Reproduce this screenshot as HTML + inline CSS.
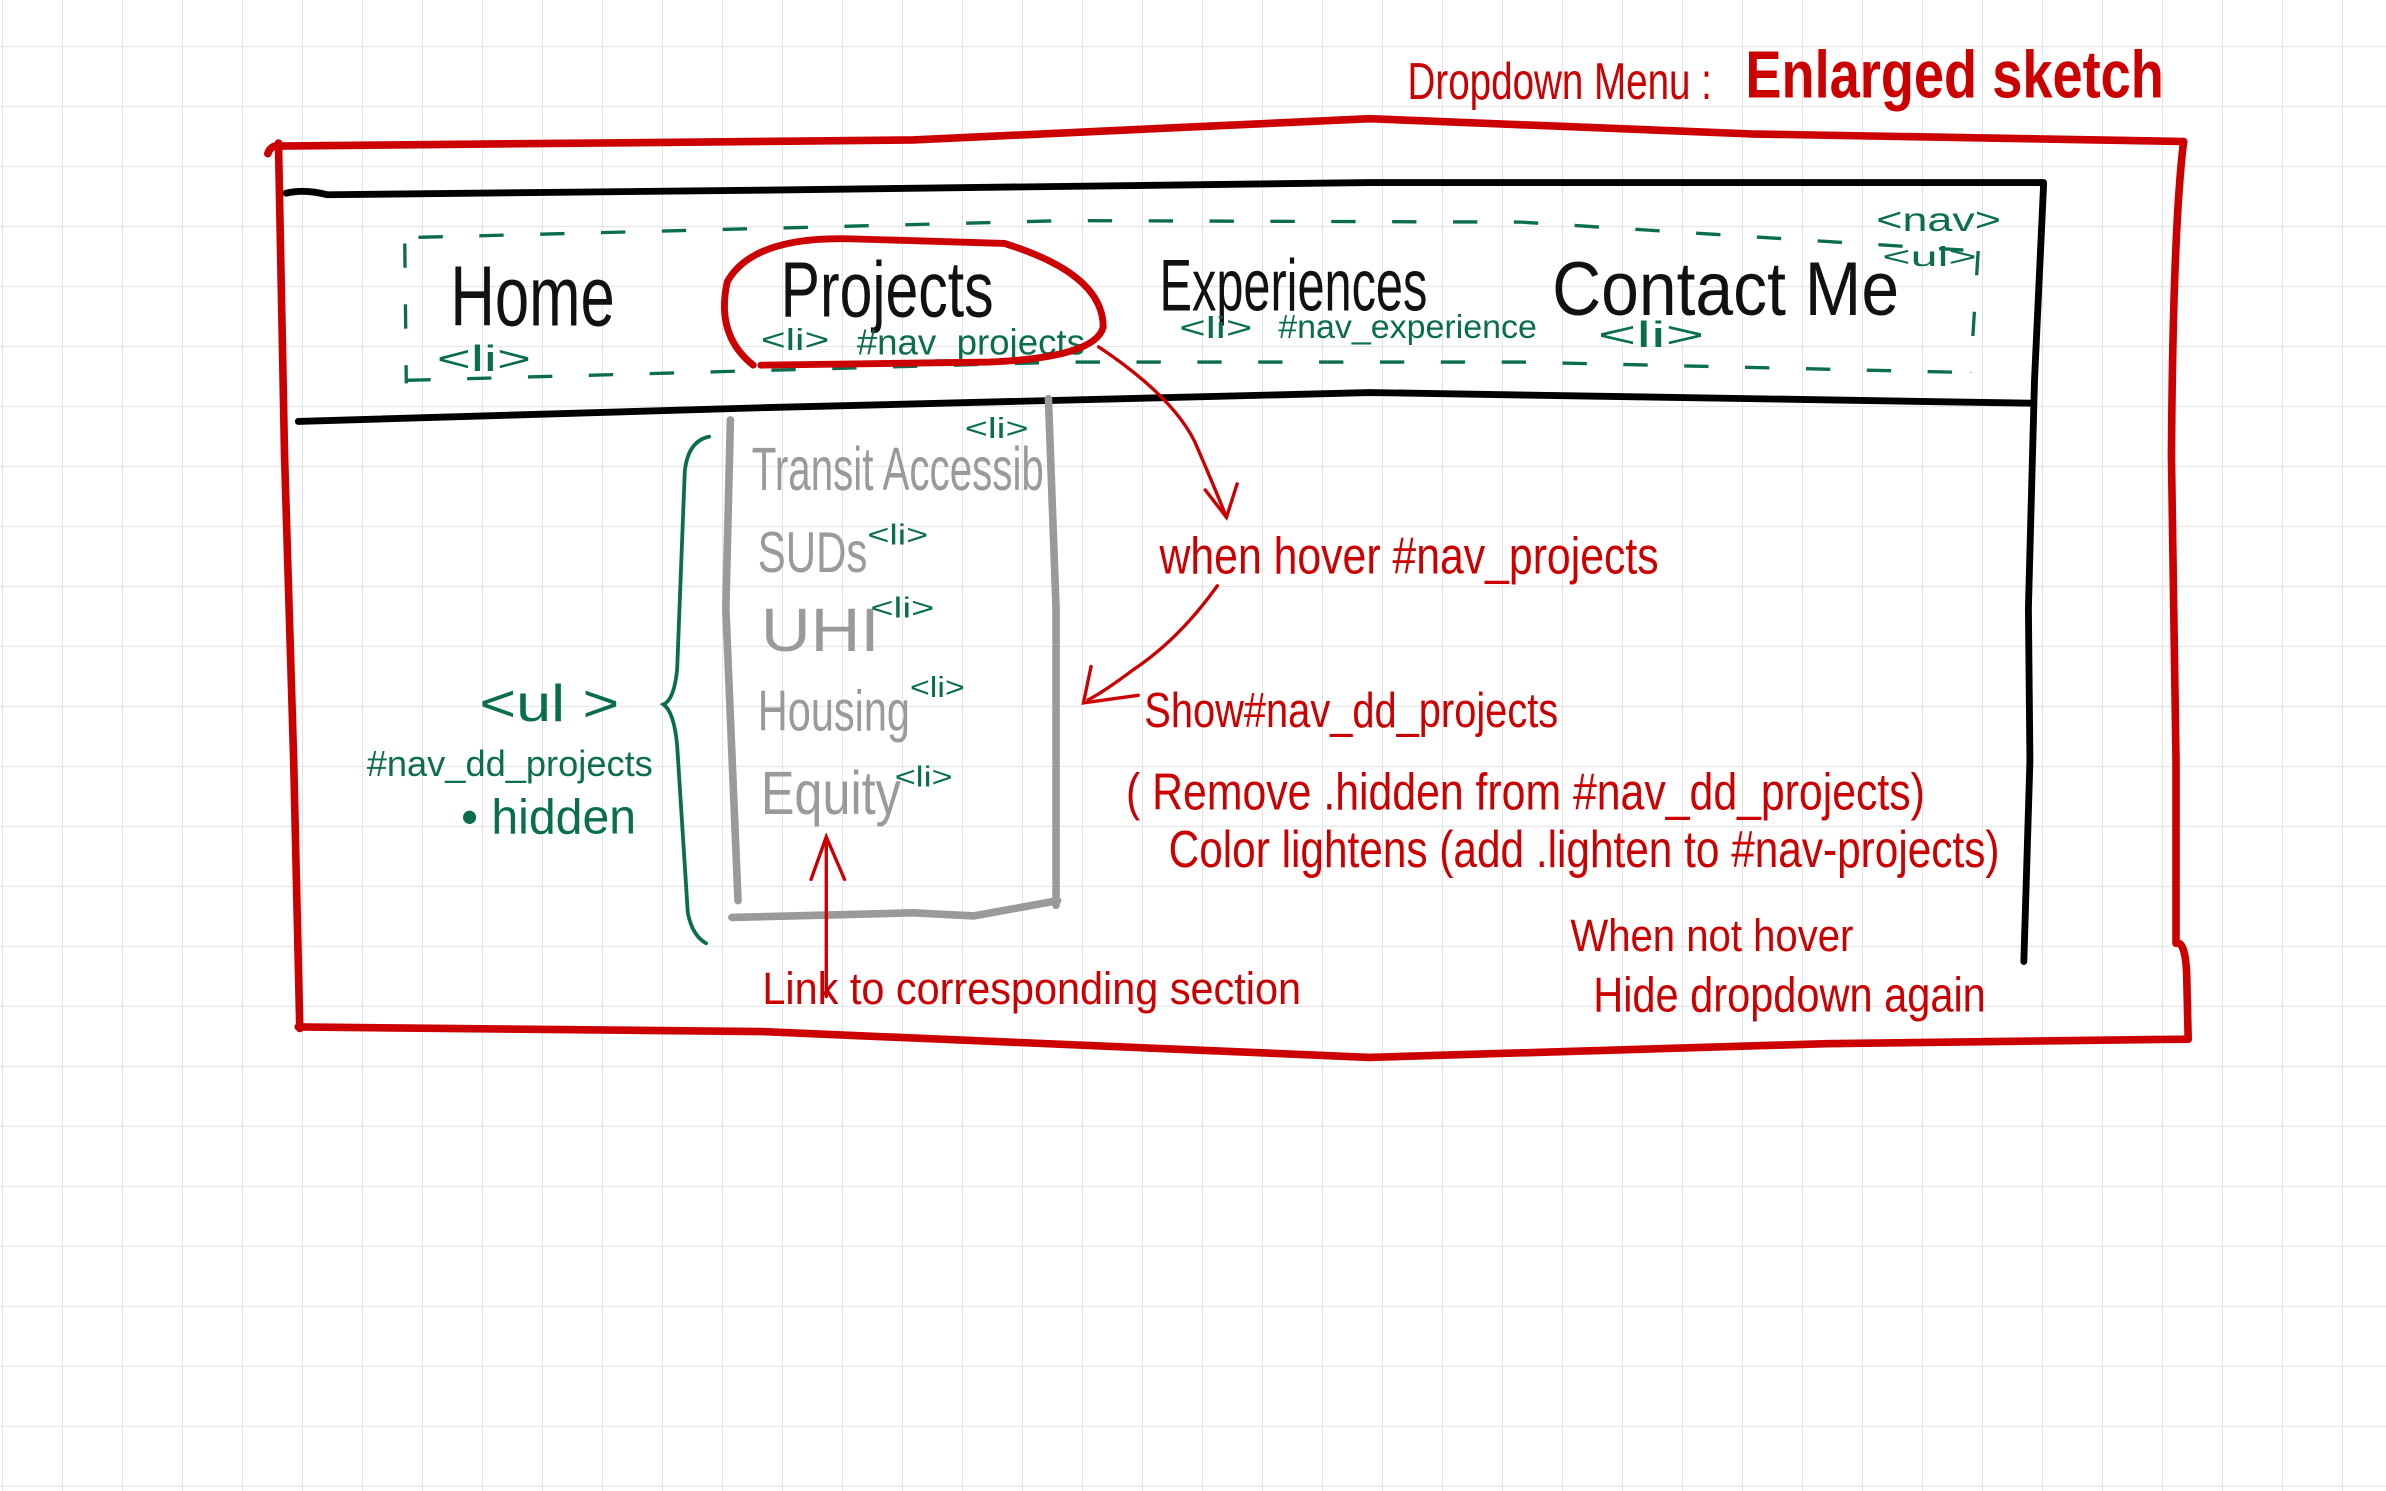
<!DOCTYPE html>
<html><head><meta charset="utf-8"><style>
html,body{margin:0;padding:0;background:#fff;}
svg{display:block;}
text{font-family:"Liberation Sans",sans-serif;}
</style></head><body>
<svg width="2386" height="1491" viewBox="0 0 1568 980" preserveAspectRatio="none" xmlns="http://www.w3.org/2000/svg">
<defs>
<pattern id="g" x="1.3" y="30.2" width="39.43" height="39.43" patternUnits="userSpaceOnUse">
<path d="M0 0 H39.43 M0 0 V39.43" stroke="#e4e4e4" stroke-width="1.4" fill="none"/>
</pattern>
</defs>
<rect width="1568" height="980" fill="#fff"/>
<rect width="1568" height="980" fill="url(#g)"/>

<!-- title -->
<text x="925" y="65" font-size="34" fill="#cc0000" font-weight="300" textLength="200" lengthAdjust="spacingAndGlyphs">Dropdown Menu :</text>
<text x="1147" y="64" font-size="44" fill="#cc0000" font-weight="bold" textLength="275" lengthAdjust="spacingAndGlyphs">Enlarged sketch</text>

<!-- red outer box -->
<g fill="none" stroke="#cc0000" stroke-width="5" stroke-linecap="round" stroke-linejoin="round">
<path d="M176 101 Q178 95 184 96 L600 92 L900 78 L1150 88 L1435 93"/>
<path d="M183 94 L187 300 L193 500 L197 676"/>
<path d="M196 675 L500 678 L900 695 L1200 686 L1438 683"/>
<path d="M1435 93 Q1428 150 1427 300 L1430 500 L1430 620 Q1436 618 1437 640 L1438 683"/>
</g>

<!-- black nav bar -->
<g fill="none" stroke="#000" stroke-width="4.5" stroke-linecap="round">
<path d="M188 127 Q200 124 215 128 L500 125 L900 120 L1343 120"/>
<path d="M196 277 L500 268 L900 258 L1335 265"/>
<path d="M1343 121 L1337 250 L1333 400 L1334 500 L1330 632"/>
</g>

<!-- green dashed nav rect -->
<g fill="none" stroke="#0a6e4e" stroke-width="2.2" stroke-dasharray="16 24">
<path d="M275 156 L700 145 L1000 146 L1300 165"/>
<path d="M267 250 L700 238 L1000 238 L1300 245"/>
<path d="M266 160 L267 252"/>
<path d="M1300 165 L1295 245"/>
</g>

<!-- nav items -->
<text x="296" y="214" font-size="56" fill="#111" font-weight="300" textLength="108" lengthAdjust="spacingAndGlyphs">Home</text>
<text x="513" y="208" font-size="52" fill="#111" font-weight="300" textLength="140" lengthAdjust="spacingAndGlyphs">Projects</text>
<text x="762" y="204" font-size="48" fill="#111" font-weight="300" textLength="176" lengthAdjust="spacingAndGlyphs">Experiences</text>
<text x="1020" y="207" font-size="50" fill="#111" font-weight="300" textLength="228" lengthAdjust="spacingAndGlyphs">Contact Me</text>

<g fill="#0a6e4e" font-size="24">
<text x="287" y="244" textLength="62" lengthAdjust="spacingAndGlyphs">&lt;li&gt;</text>
<text x="500" y="230" font-size="20" textLength="45" lengthAdjust="spacingAndGlyphs">&lt;li&gt;</text>
<text x="563" y="233" textLength="150" lengthAdjust="spacingAndGlyphs">#nav_projects</text>
<text x="775" y="222" font-size="20" textLength="48" lengthAdjust="spacingAndGlyphs">&lt;li&gt;</text>
<text x="840" y="222" font-size="22" textLength="170" lengthAdjust="spacingAndGlyphs">#nav_experience</text>
<text x="1050" y="228" textLength="70" lengthAdjust="spacingAndGlyphs">&lt;li&gt;</text>
<text x="1233" y="152" font-size="22" textLength="82" lengthAdjust="spacingAndGlyphs">&lt;nav&gt;</text>
<text x="1237" y="175" font-size="18" textLength="62" lengthAdjust="spacingAndGlyphs">&lt;ul&gt;</text>
</g>

<!-- red ellipse around projects -->
<path d="M495 240 Q470 220 478 185 Q495 155 560 157 L660 160 Q725 180 725 215 Q720 235 650 238 L500 240" fill="none" stroke="#cc0000" stroke-width="4.5" stroke-linecap="round"/>

<!-- gray dropdown -->
<g fill="none" stroke="#9a9a9a" stroke-width="5" stroke-linecap="round">
<path d="M480 276 L477 400 L485 592"/>
<path d="M481 603 L600 600 L640 602 L695 592"/>
<path d="M689 262 L694 400 L694 595"/>
</g>
<g fill="#9a9a9a" font-weight="300">
<text x="494" y="322" font-size="40" textLength="192" lengthAdjust="spacingAndGlyphs">Transit Accessib</text>
<text x="498" y="376" font-size="38" textLength="72" lengthAdjust="spacingAndGlyphs">SUDs</text>
<text x="500" y="428" font-size="40" textLength="78" lengthAdjust="spacingAndGlyphs">UHI</text>
<text x="498" y="480" font-size="38" textLength="100" lengthAdjust="spacingAndGlyphs">Housing</text>
<text x="500" y="535" font-size="40" textLength="92" lengthAdjust="spacingAndGlyphs">Equity</text>
</g>
<g fill="#0a6e4e" font-size="19">
<text x="634" y="288" textLength="42" lengthAdjust="spacingAndGlyphs">&lt;li&gt;</text>
<text x="570" y="358" textLength="40" lengthAdjust="spacingAndGlyphs">&lt;li&gt;</text>
<text x="572" y="406" textLength="42" lengthAdjust="spacingAndGlyphs">&lt;li&gt;</text>
<text x="598" y="458" textLength="36" lengthAdjust="spacingAndGlyphs">&lt;li&gt;</text>
<text x="588" y="517" textLength="38" lengthAdjust="spacingAndGlyphs">&lt;li&gt;</text>
</g>

<!-- green brace and ul label -->
<path d="M466 287 Q452 290 450 310 L445 440 Q443 460 436 463 Q443 468 445 490 L452 600 Q455 615 464 620" fill="none" stroke="#0a6e4e" stroke-width="2.5" stroke-linecap="round"/>
<g fill="#0a6e4e">
<text x="315" y="474" font-size="34" textLength="92" lengthAdjust="spacingAndGlyphs">&lt;ul &gt;</text>
<text x="241" y="510" font-size="24" textLength="188" lengthAdjust="spacingAndGlyphs">#nav_dd_projects</text>
<text x="303" y="548" font-size="32" textLength="115" lengthAdjust="spacingAndGlyphs">• hidden</text>
</g>

<!-- red arrows -->
<g fill="none" stroke="#cc0000" stroke-width="2.2" stroke-linecap="round">
<path d="M722 228 Q770 260 785 290 Q798 320 806 340"/>
<path d="M792 322 L806 340 L813 318"/>
<path d="M800 385 Q775 420 745 440 Q725 455 715 460"/>
<path d="M717 438 L712 462 L748 457"/>
<path d="M543 655 L543 552"/>
<path d="M533 578 L543 550 L555 578"/>
</g>

<!-- red annotations -->
<g fill="#cc0000" font-weight="300">
<text x="762" y="377" font-size="34" textLength="328" lengthAdjust="spacingAndGlyphs">when hover #nav_projects</text>
<text x="752" y="478" font-size="32" textLength="272" lengthAdjust="spacingAndGlyphs">Show#nav_dd_projects</text>
<text x="740" y="532" font-size="34" textLength="525" lengthAdjust="spacingAndGlyphs">( Remove .hidden from #nav_dd_projects)</text>
<text x="768" y="570" font-size="34" textLength="546" lengthAdjust="spacingAndGlyphs">Color lightens (add .lighten to #nav-projects)</text>
<text x="1032" y="625" font-size="30" textLength="186" lengthAdjust="spacingAndGlyphs">When not hover</text>
<text x="1047" y="665" font-size="32" textLength="258" lengthAdjust="spacingAndGlyphs">Hide dropdown again</text>
<text x="501" y="660" font-size="30" textLength="354" lengthAdjust="spacingAndGlyphs">Link to corresponding section</text>
</g>
</svg>
</body></html>
